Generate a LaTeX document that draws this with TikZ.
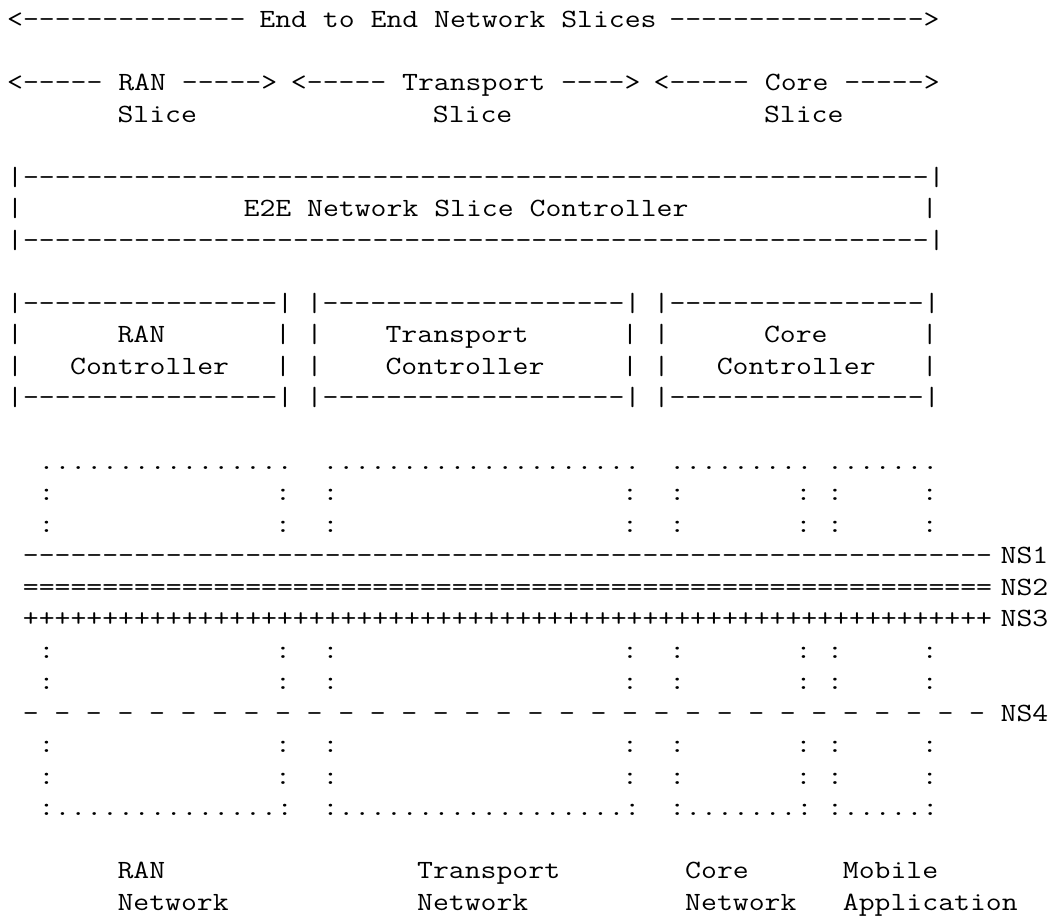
\documentclass[tikz,border=0pt]{standalone}
\usepackage{fontspec}
% Courier-like cell: Latin Modern Mono widened to 0.6 em per character
\setmonofont{Latin Modern Mono}[FakeStretch=1.1734]
\ExplSyntaxOn
\NewExpandableDocumentCommand\rep{mm}{\prg_replicate:nn{#1}{#2}}
\ExplSyntaxOff
\tikzset{
  ascii/.style={font=\ttfamily\fontsize{19.72}{23.6}\selectfont,
    anchor=base west, inner sep=0pt, outer sep=0pt, text=black},
}
% \txt{name}{column}{row}{text}: place text on the character grid
\newcommand\txt[4]{\node[ascii] (#1) at ({7.115+15.77*(#2)},{28+31.5*(#3)}) {#4};}
\begin{document}
\begin{tikzpicture}[x=0.75pt,y=-0.75pt]
\useasboundingbox (0,0) rectangle (1058,920);
\fill[white] (0,0) rectangle (1058,920);

% end-to-end span
\txt{e2eL}{0}{0}{<\rep{14}{-}}
\txt{e2eT}{16}{0}{End to End Network Slices}
\txt{e2eR}{42}{0}{\rep{16}{-}>}

% per-domain slices
\txt{ranS}{0}{2}{<\rep{5}{-} RAN \rep{5}{-}>}
\txt{trS}{18}{2}{<\rep{5}{-} Transport \rep{4}{-}>}
\txt{coS}{41}{2}{<\rep{5}{-} Core \rep{5}{-}>}
\txt{ranS2}{7}{3}{Slice}
\txt{trS2}{27}{3}{Slice}
\txt{coS2}{48}{3}{Slice}

% E2E controller box
\txt{ctlTop}{0}{5}{|\rep{57}{-}|}
\txt{ctlL}{0}{6}{|}
\txt{ctlT}{15}{6}{E2E Network Slice Controller}
\txt{ctlR}{58}{6}{|}
\txt{ctlBot}{0}{7}{|\rep{57}{-}|}

% domain controller boxes
\foreach \r in {9,12}{
  \txt{rc\r}{0}{\r}{|\rep{16}{-}|}
  \txt{tc\r}{19}{\r}{|\rep{19}{-}|}
  \txt{cc\r}{41}{\r}{|\rep{16}{-}|}
}
\foreach \r in {10,11}{
  \foreach \c in {0,17,19,39,41,58}{
    \txt{bar\r-\c}{\c}{\r}{|}
  }
}
\txt{rcA}{7}{10}{RAN}
\txt{tcA}{24}{10}{Transport}
\txt{ccA}{48}{10}{Core}
\txt{rcB}{4}{11}{Controller}
\txt{tcB}{24}{11}{Controller}
\txt{ccB}{45}{11}{Controller}

% network domain outlines
\txt{ranTop}{2}{14}{\rep{16}{.}}
\txt{trTop}{20}{14}{\rep{20}{.}}
\txt{coTop}{42}{14}{\rep{9}{.}}
\txt{moTop}{52}{14}{\rep{7}{.}}
\foreach \r in {15,16,20,21,23,24}{
  \foreach \c in {2,17,20,39,42,50,52,58}{
    \txt{col\r-\c}{\c}{\r}{:}
  }
}
\txt{ranBot}{2}{25}{:\rep{14}{.}:}
\txt{trBot}{20}{25}{:\rep{18}{.}:}
\txt{coBot}{42}{25}{:\rep{7}{.}:}
\txt{moBot}{52}{25}{:\rep{5}{.}:}

% network slices
\txt{ns1}{1}{17}{\rep{61}{-}}
\txt{ns1l}{63}{17}{NS1}
\txt{ns2}{1}{18}{\rep{61}{=}}
\txt{ns2l}{63}{18}{NS2}
\txt{ns3}{1}{19}{\rep{61}{+}}
\txt{ns3l}{63}{19}{NS3}
\foreach \c in {1,3,...,61}{
  \txt{ns4-\c}{\c}{22}{-}
}
\txt{ns4l}{63}{22}{NS4}

% domain names
\txt{ranN}{7}{27}{RAN}
\txt{trN}{26}{27}{Transport}
\txt{coN}{43}{27}{Core}
\txt{moN}{53}{27}{Mobile}
\txt{ranN2}{7}{28}{Network}
\txt{trN2}{26}{28}{Network}
\txt{coN2}{43}{28}{Network}
\txt{moN2}{53}{28}{Application}
\end{tikzpicture}
\end{document}
